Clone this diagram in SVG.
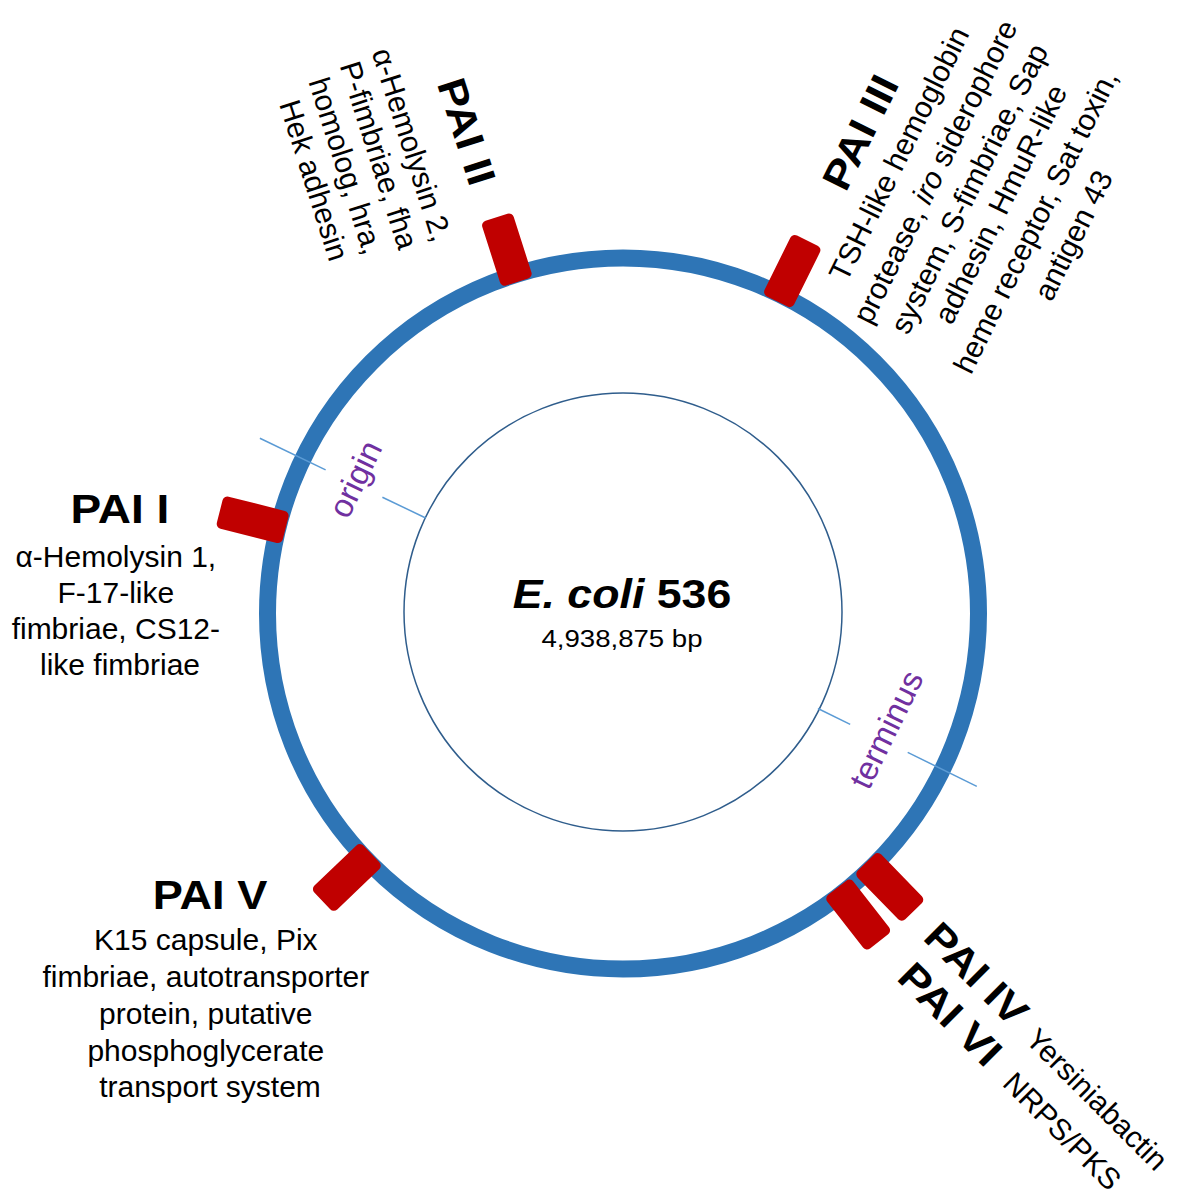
<svg xmlns="http://www.w3.org/2000/svg" width="1181" height="1204" viewBox="0 0 1181 1204">
<style>
  text { font-family: "Liberation Sans", Arial, sans-serif; fill: #000; }
  .hd { font-size: 40px; font-weight: bold; }
  .bd { font-size: 30px; }
  .mk { fill: #c00000; }
  .tick { stroke: #5b9bd5; stroke-width: 1.5; fill: none; }
  .pl { fill: #7030a0; font-size: 33px; }
</style>
<defs>
  <rect id="marker" x="348" y="-16.5" width="68" height="33" rx="5"/>
</defs>
<rect width="1181" height="1204" fill="#ffffff"/>

<g id="chromosome">
  <circle cx="623" cy="613.5" r="355.5" fill="none" stroke="#2e75b6" stroke-width="17"/>
  <circle cx="623" cy="612" r="219" fill="none" stroke="#2f5d8c" stroke-width="1.5"/>
</g>

<g id="connectors">
  <line class="tick" x1="425.7" y1="518" x2="382.4" y2="497.2"/>
  <line class="tick" x1="325.6" y1="469.9" x2="259.9" y2="438.2"/>
  <line class="tick" x1="817.9" y1="708.5" x2="850.2" y2="724.3"/>
  <line class="tick" x1="907.7" y1="752.4" x2="976.8" y2="786.3"/>
</g>

<g id="origin">
  <text class="pl" text-anchor="middle" transform="translate(365.5,484) rotate(-64.3)">origin</text>
</g>
<g id="terminus">
  <text class="pl" text-anchor="middle" transform="translate(896.5,734.5) rotate(-63.9)">terminus</text>
</g>

<g id="center">
  <text font-size="41" font-weight="bold" text-anchor="middle" transform="translate(622,608) scale(1.09,1)"><tspan font-style="italic">E. coli</tspan> 536</text>
  <text font-size="24" text-anchor="middle" transform="translate(622,647) scale(1.15,1)">4,938,875 bp</text>
</g>

<g id="pai-i">
  <use href="#marker" class="mk" transform="translate(623,613.5) rotate(194.2)"/>
  <text class="hd" text-anchor="middle" transform="translate(120,523) scale(1.15,1)">PAI I</text>
  <text class="bd" text-anchor="middle">
    <tspan x="120" y="566.5">α-Hemolysin 1,</tspan>
    <tspan x="120" y="602.5">F-17-like</tspan>
    <tspan x="120" y="638.5">fimbriae, CS12-</tspan>
    <tspan x="120" y="674.5">like fimbriae</tspan>
  </text>
</g>

<g id="pai-ii">
  <use href="#marker" class="mk" transform="translate(623,613.5) rotate(252.3)"/>
  <g transform="translate(413.5,148.5) rotate(72.3)">
    <text class="hd" text-anchor="middle" transform="translate(0,-42) scale(1.13,1)">PAI II</text>
    <text class="bd" text-anchor="middle">
      <tspan x="0" y="10.7">α-Hemolysin 2,</tspan>
      <tspan x="0" y="45.3">P-fimbriae, fha</tspan>
      <tspan x="0" y="80">homolog, hra,</tspan>
      <tspan x="0" y="114.6">Hek adhesin</tspan>
    </text>
  </g>
</g>

<g id="pai-iii">
  <use href="#marker" class="mk" transform="translate(623,613.5) rotate(296.3)"/>
  <g transform="translate(900.5,150) rotate(-63.7)">
    <text class="hd" text-anchor="middle" transform="translate(-2,-30) scale(1.13,1)">PAI III</text>
    <text class="bd" text-anchor="middle">
      <tspan x="0" y="10.7">TSH-like hemoglobin</tspan>
      <tspan x="0" y="51">protease, <tspan font-style="italic">iro</tspan> siderophore</tspan>
      <tspan x="0" y="89">system, S-fimbriae, Sap</tspan>
      <tspan x="0" y="124">adhesin, HmuR-like</tspan>
      <tspan x="0" y="163">heme receptor, Sat toxin,</tspan>
      <tspan x="0" y="203">antigen 43</tspan>
    </text>
  </g>
</g>

<g id="pai-iv">
  <use href="#marker" class="mk" transform="translate(623,613.5) rotate(45.7)"/>
  <g transform="translate(921.7,938.7) rotate(45)">
    <text class="hd" transform="scale(1.13,1)">PAI IV</text>
    <text class="bd" x="144.6" y="0">Yersiniabactin</text>
  </g>
</g>

<g id="pai-vi">
  <use href="#marker" class="mk" transform="translate(623,613.5) rotate(52)"/>
  <g transform="translate(921.7,938.7) rotate(45)">
    <text class="hd" transform="translate(10,47) scale(1.13,1)">PAI VI</text>
    <text class="bd" x="159.6" y="47">NRPS/PKS</text>
  </g>
</g>

<g id="pai-v">
  <use href="#marker" class="mk" transform="translate(623,613.5) rotate(136.3)"/>
  <text class="hd" text-anchor="middle" transform="translate(210,909) scale(1.13,1)">PAI V</text>
  <text class="bd" text-anchor="middle">
    <tspan x="210" y="950">K15 capsule, Pix</tspan>
    <tspan x="210" y="987">fimbriae, autotransporter</tspan>
    <tspan x="210" y="1024">protein, putative</tspan>
    <tspan x="210" y="1060.5">phosphoglycerate</tspan>
    <tspan x="210" y="1097">transport system</tspan>
  </text>
</g>
</svg>
